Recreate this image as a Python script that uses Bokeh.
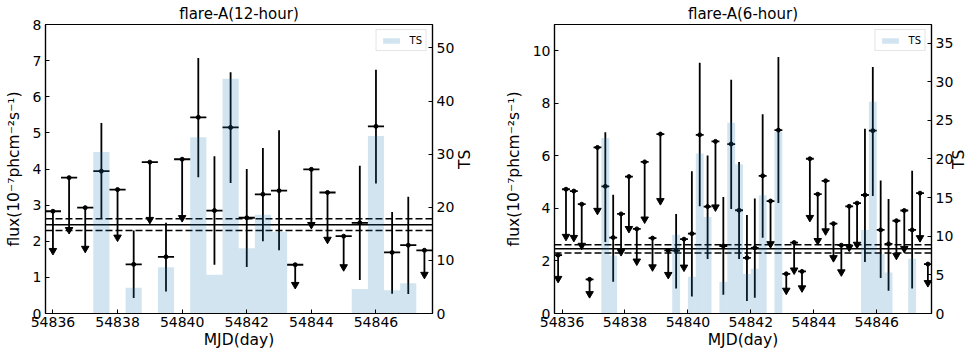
import numpy as np
from bokeh.plotting import figure
from bokeh.models import Range1d, LinearAxis, FixedTicker, Span, BasicTickFormatter
from bokeh.layouts import row
from bokeh.embed import file_html
from bokeh.resources import INLINE

FONT = "DejaVu Sans"
BAR_COLOR = "#1f77b4"

# ---------------- 12-hour binning ----------------
det12_mjd = [54837.5, 54838.5, 54839.5, 54840.5, 54841.0, 54841.5, 54842.0,
             54842.5, 54843.0, 54845.5, 54846.0, 54846.5, 54847.0]
det12_flux = [3.94, 1.36, 1.57, 5.43, 2.85, 5.15, 2.65, 3.30, 3.40, 2.51, 5.18, 1.69, 1.89]
det12_low = [2.62, 0.43, 0.61, 3.77, 1.35, 3.61, 1.29, 2.00, 1.75, 0.93, 3.60, 0.55, 0.54]
det12_high = [5.27, 2.30, 2.51, 7.07, 4.35, 6.68, 4.00, 4.58, 5.07, 4.09, 6.75, 2.81, 3.23]
ts12 = [30.4, 4.85, 8.7, 33.2, 7.3, 44.2, 12.3, 18.6, 15.4, 4.6, 33.4, 4.4, 5.7]
ul12_mjd = [54836.0, 54836.5, 54837.0, 54838.0, 54839.0, 54840.0, 54843.5,
            54844.0, 54844.5, 54845.0, 54847.5]
ul12_flux = [2.83, 3.76, 2.93, 3.43, 4.19, 4.27, 1.35, 3.99, 3.35, 2.14, 1.75]
ul12_end = [1.74, 2.32, 1.80, 2.11, 2.60, 2.65, 0.80, 2.46, 2.05, 1.29, 1.08]

# ---------------- 6-hour binning ----------------
det6_mjd = [54837.375, 54837.625, 54839.625, 54840.125, 54840.375, 54840.625,
            54841.125, 54841.375, 54841.625, 54841.875, 54842.125, 54842.375,
            54842.875, 54845.625, 54845.875, 54846.125, 54846.375, 54847.125]
det6_flux = [4.84, 2.89, 2.39, 3.04, 6.80, 4.07, 2.57, 6.45, 3.93, 2.12, 2.50, 5.24,
             6.98, 4.51, 6.96, 3.18, 2.65, 3.18]
det6_low = [2.72, 1.21, 0.95, 0.65, 4.08, 2.07, 0.71, 3.98, 2.07, 0.48, 0.60, 2.88,
            4.21, 1.96, 4.47, 1.35, 0.87, 0.95]
det6_high = [6.90, 4.52, 3.79, 5.41, 9.54, 6.01, 4.43, 8.90, 5.77, 3.75, 4.38, 7.58,
             9.76, 7.03, 9.38, 5.06, 4.36, 5.43]
ts6 = [22.7, 7.5, 10.2, 4.75, 20.7, 12.5, 4.1, 24.7, 19.3, 5.1, 5.8, 15.3,
       23.5, 10.8, 27.4, 7.7, 5.3, 7.1]
ul6_mjd = [54835.875, 54836.125, 54836.375, 54836.625, 54836.875, 54837.125,
           54837.875, 54838.125, 54838.375, 54838.625, 54838.875, 54839.125,
           54839.375, 54839.875, 54840.875, 54842.625, 54843.125, 54843.375,
           54843.625, 54843.875, 54844.125, 54844.375, 54844.625, 54844.875,
           54845.125, 54845.375, 54846.625, 54846.875, 54847.375, 54847.625]
ul6_flux = [2.22, 4.73, 4.66, 4.16, 1.30, 6.32, 3.79, 5.21, 3.22, 5.77, 2.87, 6.83,
            2.40, 2.83, 6.55, 4.28, 1.51, 2.70, 1.60, 5.89, 4.54, 5.05, 3.42, 2.60,
            4.08, 4.20, 3.53, 3.92, 4.58, 1.88]
ul6_end = [1.33, 2.93, 2.89, 2.59, 0.75, 3.92, 2.35, 3.23, 1.99, 3.59, 1.77, 4.29,
           1.48, 1.76, 4.05, 2.65, 0.88, 1.65, 0.97, 3.65, 2.77, 3.14, 2.12, 1.58,
           2.52, 2.63, 2.21, 2.47, 2.88, 1.17]

# average flux and its 1-sigma band (same in both panels)
mean_flux = 2.46
mean_low = 2.30
mean_high = 2.62

x_ticks = [54836, 54838, 54840, 54842, 54844, 54846]


def style_axis(ax, tick_size="14px", label_size="15.5px"):
    ax.major_label_text_font = FONT
    ax.major_label_text_font_size = tick_size
    ax.major_label_text_color = "black"
    ax.axis_label_text_font = FONT
    ax.axis_label_text_font_size = label_size
    ax.axis_label_text_font_style = "normal"
    ax.axis_label_text_color = "black"
    ax.axis_line_color = "black"
    ax.axis_line_width = 1.2
    ax.major_tick_line_color = "black"
    ax.major_tick_in = 4
    ax.major_tick_out = 0
    ax.minor_tick_line_color = None


def panel(title, det_x, det_y, det_lo, det_hi, ts, ul_x, ul_y, ul_end,
          bin_w, y_max, y_ticks, ts_max, ts_ticks, xr, borders, ts_label_standoff):
    bl, br = borders
    p = figure(width=490, height=354, output_backend="svg", toolbar_location=None,
               x_range=Range1d(*xr), y_range=Range1d(0, y_max),
               min_border_left=bl, min_border_right=br,
               min_border_top=24, min_border_bottom=41)
    p.title.text = title
    p.title.align = "center"
    p.title.text_font = FONT
    p.title.text_font_size = "15px"
    p.title.text_font_style = "normal"
    p.title.text_color = "black"
    p.title.standoff = 3
    p.grid.visible = False
    p.outline_line_color = "black"
    p.outline_line_width = 1.2
    p.background_fill_color = "white"
    p.border_fill_color = "white"

    p.extra_y_ranges = {"ts": Range1d(0, ts_max)}

    # horizontal mean flux and band
    for loc, dash in ((mean_flux, "solid"), (mean_low, "7 3"), (mean_high, "7 3")):
        p.add_layout(Span(location=loc, dimension="width", line_color="black",
                          line_width=1.5, line_dash=dash, level="underlay"))

    hw = bin_w / 2.0
    dx = np.array(det_x)
    ux = np.array(ul_x)
    # detections: vertical error bars + horizontal bin width + dot
    p.segment(x0=dx, y0=det_lo, x1=dx, y1=det_hi, line_color="black", line_width=1.8)
    p.segment(x0=dx - hw, y0=det_y, x1=dx + hw, y1=det_y, line_color="black", line_width=1.8)
    p.scatter(dx, det_y, marker="circle", size=4, color="black")
    # upper limits: cap, arrow shaft, arrow head
    p.segment(x0=ux - hw, y0=ul_y, x1=ux + hw, y1=ul_y, line_color="black", line_width=1.8)
    p.segment(x0=ux, y0=ul_y, x1=ux, y1=ul_end, line_color="black", line_width=1.8)
    p.scatter(ux, ul_y, marker="circle", size=4, color="black")
    p.scatter(ux, ul_end, marker="inverted_triangle", size=7.5, color="black")

    # TS bars on the twin axis
    p.vbar(x=dx, width=bin_w, top=ts, bottom=0, y_range_name="ts",
           fill_color=BAR_COLOR, fill_alpha=0.2, line_color=None, legend_label="TS")

    # axes
    xa = p.xaxis[0]
    xa.ticker = FixedTicker(ticks=x_ticks)
    xa.formatter = BasicTickFormatter(use_scientific=False)
    xa.axis_label = "MJD(day)"
    style_axis(xa)
    xa.major_label_standoff = 3
    xa.axis_label_standoff = 1

    ya = p.yaxis[0]
    ya.ticker = FixedTicker(ticks=y_ticks)
    ya.axis_label = "flux(10⁻⁷phcm⁻²s⁻¹)"
    style_axis(ya)
    ya.major_label_standoff = 4
    ya.axis_label_standoff = 7

    ts_axis = LinearAxis(y_range_name="ts", axis_label="TS",
                         ticker=FixedTicker(ticks=ts_ticks))
    style_axis(ts_axis)
    ts_axis.major_label_standoff = 4
    ts_axis.axis_label_standoff = ts_label_standoff
    ts_axis.axis_label_orientation = np.pi / 2
    p.add_layout(ts_axis, "right")

    lg = p.legend[0]
    lg.location = "top_right"
    lg.margin = 5
    lg.padding = 4
    lg.spacing = 0
    lg.glyph_width = 21
    lg.glyph_height = 7
    lg.label_height = 12
    lg.label_width = 10
    lg.label_standoff = 8
    lg.label_text_font = FONT
    lg.label_text_font_size = "10px"
    lg.label_text_color = "black"
    lg.border_line_color = "#cccccc"
    lg.border_line_width = 1
    lg.background_fill_alpha = 0.8
    return p


p1 = panel("flare-A(12-hour)", det12_mjd, det12_flux, det12_low, det12_high, ts12,
           ul12_mjd, ul12_flux, ul12_end, 0.5, 8, list(range(0, 9)),
           54.4, [0, 10, 20, 30, 40, 50], (54835.77, 54847.75), (45, 58), 8)
p2 = panel("flare-A(6-hour)", det6_mjd, det6_flux, det6_low, det6_high, ts6,
           ul6_mjd, ul6_flux, ul6_end, 0.25, 11, [0, 2, 4, 6, 8, 10],
           37.4, [0, 5, 10, 15, 20, 25, 30, 35], (54835.76, 54847.74), (64, 39), 3)

layout = row(p1, p2)
open("out.html", "w").write(file_html(layout, INLINE))
